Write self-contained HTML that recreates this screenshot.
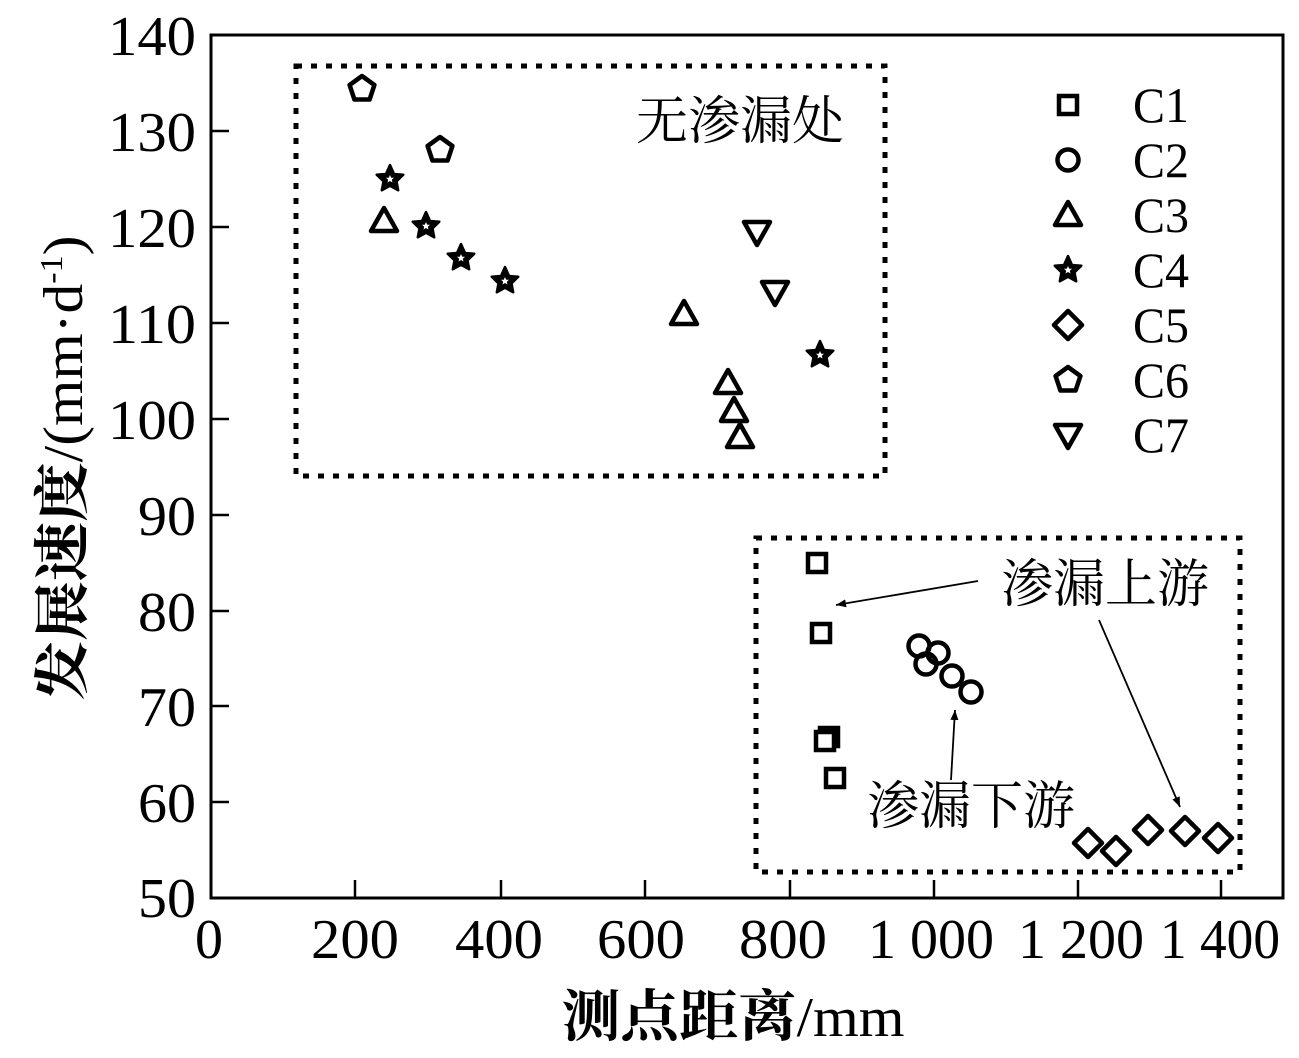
<!DOCTYPE html>
<html><head><meta charset="utf-8"><style>
html,body{margin:0;padding:0;background:#fff}
svg{display:block}
text{font-family:"Liberation Serif","Noto Serif CJK SC",serif;fill:#000}
</style></head><body>
<svg width="1299" height="1058" viewBox="0 0 1299 1058" xmlns="http://www.w3.org/2000/svg">
<defs>
<marker id="ah" markerWidth="10" markerHeight="8" refX="10" refY="4" orient="auto" markerUnits="userSpaceOnUse" viewBox="0 0 10 8">
<path d="M0,0 L10,4 L0,8 z" fill="#000"/></marker>
<g id="sq"><rect x="-9" y="-9" width="18" height="18" fill="#fff" stroke="#000" stroke-width="4.5"/></g>
<g id="ci"><circle r="10.5" fill="none" stroke="#000" stroke-width="4.5"/></g>
<g id="tr"><path d="M0,-13 L13,10 L-13,10 Z" fill="#fff" stroke="#000" stroke-width="4.5" stroke-linejoin="round"/></g>
<g id="dt"><path d="M0,13 L13,-10 L-13,-10 Z" fill="#fff" stroke="#000" stroke-width="4.5" stroke-linejoin="round"/></g>
<g id="di"><path d="M0,-14 L14,0 L0,14 L-14,0 Z" fill="#fff" stroke="#000" stroke-width="4.5" stroke-linejoin="round"/></g>
<g id="pe"><path d="M0,-13 L12.4,-4 L7.6,10.5 L-7.6,10.5 L-12.4,-4 Z" fill="#fff" stroke="#000" stroke-width="4.5" stroke-linejoin="round"/></g>
<g id="st"><path d="M0,-14 L4,-5 L13.3,-4.3 L6.5,2.3 L8.2,11.3 L0,6.8 L-8.2,11.3 L-6.5,2.3 L-13.3,-4.3 L-4,-5 Z" fill="#000" stroke="#000" stroke-width="2.5" stroke-linejoin="round"/>
<path d="M0,-4 L1.2,-1.2 L4,-1.2 L1.8,0.8 L2.5,3.5 L0,2 L-2.5,3.5 L-1.8,0.8 L-4,-1.2 L-1.2,-1.2 Z" fill="#fff"/></g>
</defs>
<rect x="211" y="35" width="1072" height="863" fill="none" stroke="#000" stroke-width="3"/>
<g stroke="#000" stroke-width="2.5">
<line x1="355" y1="898" x2="355" y2="880"/><line x1="501" y1="898" x2="501" y2="880"/>
<line x1="645" y1="898" x2="645" y2="880"/><line x1="790" y1="898" x2="790" y2="880"/>
<line x1="934" y1="898" x2="934" y2="880"/><line x1="1078" y1="898" x2="1078" y2="880"/>
<line x1="1221" y1="898" x2="1221" y2="880"/>
<line x1="211" y1="131" x2="229" y2="131"/><line x1="211" y1="227" x2="229" y2="227"/>
<line x1="211" y1="323" x2="229" y2="323"/><line x1="211" y1="419" x2="229" y2="419"/>
<line x1="211" y1="515" x2="229" y2="515"/><line x1="211" y1="611" x2="229" y2="611"/>
<line x1="211" y1="706" x2="229" y2="706"/><line x1="211" y1="802" x2="229" y2="802"/>
</g>
<g font-size="56" text-anchor="end">
<text x="196" y="55" textLength="88" lengthAdjust="spacingAndGlyphs">140</text>
<text x="196" y="151" textLength="88" lengthAdjust="spacingAndGlyphs">130</text>
<text x="196" y="247" textLength="88" lengthAdjust="spacingAndGlyphs">120</text>
<text x="196" y="343" textLength="88" lengthAdjust="spacingAndGlyphs">110</text>
<text x="196" y="439" textLength="88" lengthAdjust="spacingAndGlyphs">100</text>
<text x="196" y="535" textLength="58" lengthAdjust="spacingAndGlyphs">90</text>
<text x="196" y="631" textLength="58" lengthAdjust="spacingAndGlyphs">80</text>
<text x="196" y="726" textLength="58" lengthAdjust="spacingAndGlyphs">70</text>
<text x="196" y="822" textLength="58" lengthAdjust="spacingAndGlyphs">60</text>
<text x="196" y="917" textLength="58" lengthAdjust="spacingAndGlyphs">50</text>
</g>
<g font-size="56" text-anchor="middle">
<text x="209" y="958" textLength="28" lengthAdjust="spacingAndGlyphs">0</text>
<text x="355" y="958" textLength="88" lengthAdjust="spacingAndGlyphs">200</text>
<text x="499" y="958" textLength="88" lengthAdjust="spacingAndGlyphs">400</text>
<text x="641" y="958" textLength="88" lengthAdjust="spacingAndGlyphs">600</text>
<text x="783" y="958" textLength="88" lengthAdjust="spacingAndGlyphs">800</text>
<text x="931" y="958" textLength="126" lengthAdjust="spacingAndGlyphs">1 000</text>
<text x="1081" y="958" textLength="126" lengthAdjust="spacingAndGlyphs">1 200</text>
<text x="1220" y="958" textLength="120" lengthAdjust="spacingAndGlyphs">1 400</text>
</g>
<text x="733" y="1036" font-size="56" text-anchor="middle" textLength="343" lengthAdjust="spacingAndGlyphs"><tspan font-weight="bold">测点距离</tspan>/mm</text>
<text transform="translate(82,468) rotate(-90)" font-size="56" text-anchor="middle" textLength="465" lengthAdjust="spacingAndGlyphs"><tspan font-weight="bold">发展速度</tspan>/(mm·d<tspan font-size="32" dy="-20">-1</tspan><tspan dy="20">)</tspan></text>
<rect x="296" y="66" width="589" height="410" fill="none" stroke="#000" stroke-width="5" stroke-dasharray="6,9"/>
<rect x="756" y="538" width="484" height="334" fill="none" stroke="#000" stroke-width="5" stroke-dasharray="6,9"/>
<text x="740" y="139" font-size="52" text-anchor="middle">无渗漏处</text>
<text x="1105" y="602" font-size="52" text-anchor="middle">渗漏上游</text>
<text x="971" y="824" font-size="52" text-anchor="middle">渗漏下游</text>
<g stroke="#000" stroke-width="1.8" fill="none">
<line x1="978" y1="581" x2="836" y2="605" marker-end="url(#ah)"/>
<line x1="1099" y1="620" x2="1180" y2="807" marker-end="url(#ah)"/>
<line x1="951" y1="780" x2="955" y2="710" marker-end="url(#ah)"/>
</g>
<use href="#pe" x="362" y="89"/><use href="#pe" x="440" y="150"/>
<use href="#st" x="390" y="179"/><use href="#st" x="426" y="226"/><use href="#st" x="461" y="258"/><use href="#st" x="505" y="281"/><use href="#st" x="820" y="355"/>
<use href="#tr" x="384" y="221"/><use href="#tr" x="684" y="314"/><use href="#tr" x="728" y="383"/><use href="#tr" x="734" y="411"/><use href="#tr" x="740" y="437"/>
<use href="#dt" x="757" y="232"/><use href="#dt" x="775" y="292"/>
<use href="#sq" x="817" y="563"/><use href="#sq" x="821" y="633"/><use href="#sq" x="829" y="737"/><use href="#sq" x="825" y="741"/><use href="#sq" x="835" y="778"/>
<use href="#ci" x="919" y="646"/><use href="#ci" x="938" y="653"/><use href="#ci" x="926" y="664"/><use href="#ci" x="952" y="676"/><use href="#ci" x="971" y="692"/>
<use href="#di" x="1088" y="843"/><use href="#di" x="1116" y="851"/><use href="#di" x="1148" y="830"/><use href="#di" x="1185" y="831"/><use href="#di" x="1218" y="838"/>
<use href="#sq" x="1068" y="105"/><use href="#ci" x="1068" y="160"/><use href="#tr" x="1068" y="215"/><use href="#st" x="1068" y="270"/><use href="#di" x="1068" y="325"/><use href="#pe" x="1068" y="380"/><use href="#dt" x="1068" y="435"/>
<g font-size="50">
<text x="1133" y="122" textLength="56" lengthAdjust="spacingAndGlyphs">C1</text><text x="1133" y="177" textLength="56" lengthAdjust="spacingAndGlyphs">C2</text><text x="1133" y="232" textLength="56" lengthAdjust="spacingAndGlyphs">C3</text><text x="1133" y="287" textLength="56" lengthAdjust="spacingAndGlyphs">C4</text><text x="1133" y="342" textLength="56" lengthAdjust="spacingAndGlyphs">C5</text><text x="1133" y="397" textLength="56" lengthAdjust="spacingAndGlyphs">C6</text><text x="1133" y="452" textLength="56" lengthAdjust="spacingAndGlyphs">C7</text>
</g>
</svg>
</body></html>
